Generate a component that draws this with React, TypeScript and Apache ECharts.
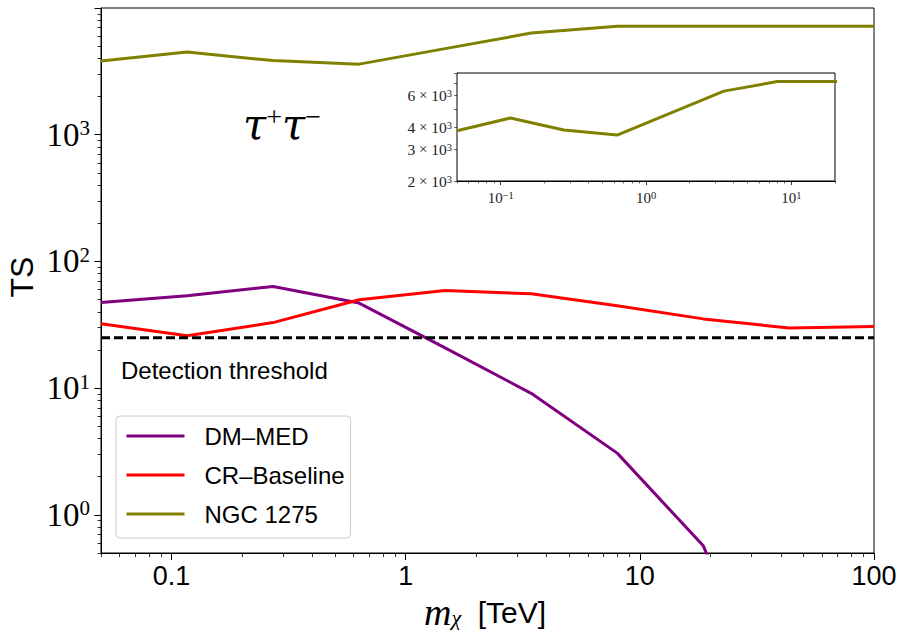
import React, { useEffect, useRef } from 'react';
import * as echarts from 'echarts';

// ---- data ----
const massTeV = [0.05, 0.1165, 0.2715, 0.6327, 1.474, 3.436, 8.007, 18.66, 43.48, 100];
const dmMed = [47.4, 53.5, 63.4, 46.9, 20.8, 9.1, 3.07, 0.57, 0.015];
const crBaseline = [32.2, 25.9, 32.9, 49.8, 58.9, 55.5, 44.7, 35.2, 29.8, 30.6];
const ngc1275 = [3810, 4490, 3846, 3605, 4780, 6340, 7165, 7165, 7165, 7165];
const detectionThreshold = 25;

const seriesNames = ['DM–MED', 'CR–Baseline', 'NGC 1275'];
const seriesColors = ['#800080', '#ff0000', '#808000'];

// main axes ticks
const xMajorTicks = [0.1, 1, 10, 100];
const xMajorLabels = ['0.1', '1', '10', '100'];
const xMinorTicks = [0.05, 0.06, 0.07, 0.08, 0.09, 0.2, 0.3, 0.4, 0.5, 0.6, 0.7, 0.8, 0.9, 2, 3, 4, 5, 6, 7, 8, 9, 20, 30, 40, 50, 60, 70, 80, 90];
const yMajorTicks = [1, 10, 100, 1000, 10000];
const yMajorLabels = [1, 10, 100, 1000];
const yMinorTicks = [0.5, 0.6, 0.7, 0.8, 0.9, 2, 3, 4, 5, 6, 7, 8, 9, 20, 30, 40, 50, 60, 70, 80, 90, 200, 300, 400, 500, 600, 700, 800, 900, 2000, 3000, 4000, 5000, 6000, 7000, 8000, 9000];

// inset axes ticks
const insetXMajor = [0.1, 1, 10];
const insetXMinor = [0.05, 0.06, 0.07, 0.08, 0.09, 0.2, 0.3, 0.4, 0.5, 0.6, 0.7, 0.8, 0.9, 2, 3, 4, 5, 6, 7, 8, 9, 20];
const insetYTicks = [2000, 3000, 4000, 5000, 6000, 7000, 8000];
const insetYLabels = [2000, 3000, 4000, 6000];

const SANS = '"Liberation Sans", Arial, sans-serif';
const SERIF = '"Liberation Serif", "DejaVu Serif", serif';
const GREEK = '"DejaVu Serif", "Liberation Serif", serif';

const pairs = (ys: number[]) => ys.map((y, i) => [massTeV[i], y]);
const expOf = (v: number) => Math.round(Math.log10(v));
const supMinus = (n: number) => (n < 0 ? '−' + Math.abs(n) : String(n));

export default function App() {
  const ref = useRef<HTMLDivElement>(null);
  useEffect(() => {
    const chart = echarts.init(ref.current!, null, { renderer: 'svg' });
    const black = '#000';
    const LW = 3;
    const option: any = {
      animation: false,
      backgroundColor: '#fff',
      grid: [
        { left: 101, top: 8, width: 773, height: 545, show: true, borderColor: black, borderWidth: 1, backgroundColor: 'transparent', containLabel: false, outerBoundsMode: 'none' },
        { left: 457, top: 73, width: 378, height: 108, show: true, borderColor: black, borderWidth: 1, backgroundColor: '#fff', containLabel: false, outerBoundsMode: 'none', z: 3 },
      ],
      xAxis: [
        {
          gridIndex: 0, type: 'log', logBase: 10, min: 0.05, max: 100, position: 'bottom', offset: 0,
          axisLine: { show: true, lineStyle: { color: black, width: 1 } },
          axisTick: { show: true, customValues: xMajorTicks, length: 7, lineStyle: { color: black, width: 1 } },
          axisLabel: {
            show: true, customValues: xMajorTicks, margin: 9, color: black, fontSize: 27, fontFamily: SANS,
            formatter: (v: number) => xMajorLabels[xMajorTicks.findIndex((t) => Math.abs(Math.log10(t) - Math.log10(v)) < 0.01)] ?? '',
          },
          splitLine: { show: false }, minorTick: { show: false },
        },
        {
          gridIndex: 0, type: 'log', logBase: 10, min: 0.05, max: 100, position: 'bottom', offset: 0,
          axisLine: { show: false },
          axisTick: { show: true, customValues: xMinorTicks, length: 4, lineStyle: { color: black, width: 0.8 } },
          axisLabel: { show: false }, splitLine: { show: false },
        },
        {
          gridIndex: 1, type: 'log', logBase: 10, min: 0.05, max: 20, position: 'bottom', offset: 0,
          axisLine: { show: true, lineStyle: { color: black, width: 1 } },
          axisTick: { show: true, customValues: insetXMajor, length: 4, lineStyle: { color: black, width: 0.8 } },
          axisLabel: {
            show: true, customValues: insetXMajor, margin: 9, color: '#222',
            formatter: (v: number) => `{b|10}{s|${supMinus(expOf(v))}}`,
            rich: {
              b: { fontSize: 15, lineHeight: 15, fontFamily: SERIF, color: '#222' },
              s: { fontSize: 10.5, lineHeight: 8, fontFamily: SERIF, color: '#222', verticalAlign: 'top' },
            },
          },
          splitLine: { show: false },
        },
        {
          gridIndex: 1, type: 'log', logBase: 10, min: 0.05, max: 20, position: 'bottom', offset: 0,
          axisLine: { show: false },
          axisTick: { show: true, customValues: insetXMinor, length: 2.5, lineStyle: { color: black, width: 0.6 } },
          axisLabel: { show: false }, splitLine: { show: false },
        },
      ],
      yAxis: [
        {
          gridIndex: 0, type: 'log', logBase: 10, min: 0.5, max: 10000, position: 'left', offset: 0,
          axisLine: { show: true, lineStyle: { color: black, width: 1 } },
          axisTick: { show: true, customValues: yMajorTicks, length: 6.5, lineStyle: { color: black, width: 1 } },
          axisLabel: {
            show: true, customValues: yMajorLabels, margin: 11, color: black,
            formatter: (v: number) => `{b|10}{s|${expOf(v)}}`,
            rich: {
              b: { fontSize: 33, lineHeight: 34, fontFamily: SERIF, color: black },
              s: { fontSize: 21, lineHeight: 14, fontFamily: SERIF, color: black, verticalAlign: 'top' },
            },
          },
          splitLine: { show: false }, minorTick: { show: false },
        },
        {
          gridIndex: 0, type: 'log', logBase: 10, min: 0.5, max: 10000, position: 'left', offset: 0,
          axisLine: { show: false },
          axisTick: { show: true, customValues: yMinorTicks, length: 3.5, lineStyle: { color: black, width: 0.8 } },
          axisLabel: { show: false }, splitLine: { show: false },
        },
        {
          gridIndex: 1, type: 'log', logBase: 10, min: 2000, max: 8000, position: 'left', offset: 0,
          axisLine: { show: true, lineStyle: { color: black, width: 1 } },
          axisTick: { show: true, customValues: insetYTicks, length: 3, lineStyle: { color: black, width: 0.6 } },
          axisLabel: {
            show: true, customValues: insetYLabels, margin: 5, color: '#222',
            formatter: (v: number) => `{n|${Math.round(v / 1000)}}{x| × }{b|10}{s|3}`,
            rich: {
              n: { fontSize: 15.5, lineHeight: 15, fontFamily: SERIF, color: '#222' },
              x: { fontSize: 15, lineHeight: 15, fontFamily: SERIF, color: '#222' },
              b: { fontSize: 15.5, lineHeight: 15, fontFamily: SERIF, color: '#222' },
              s: { fontSize: 10.5, lineHeight: 8, fontFamily: SERIF, color: '#222', verticalAlign: 'top' },
            },
          },
          splitLine: { show: false },
        },
      ],
      legend: {
        data: seriesNames,
        orient: 'vertical', left: 116, top: 416,
        padding: [8, 6, 12, 9], itemGap: 15, itemWidth: 58, itemHeight: 24,
        backgroundColor: 'rgba(255,255,255,0.8)', borderColor: '#cccccc', borderWidth: 1, borderRadius: 4,
        textStyle: { fontSize: 24, fontFamily: SANS, color: black, padding: [0, 0, 0, 15], lineHeight: 24 },
        itemStyle: { opacity: 0 },
        lineStyle: { width: LW },
        selectedMode: false,
      },
      series: [
        { name: seriesNames[0], type: 'line', xAxisIndex: 0, yAxisIndex: 0, data: pairs(dmMed), symbol: 'none', showSymbol: false, clip: true, color: seriesColors[0], lineStyle: { color: seriesColors[0], width: LW }, z: 2 },
        { name: seriesNames[1], type: 'line', xAxisIndex: 0, yAxisIndex: 0, data: pairs(crBaseline), symbol: 'none', showSymbol: false, clip: true, color: seriesColors[1], lineStyle: { color: seriesColors[1], width: LW }, z: 2 },
        { name: seriesNames[2], type: 'line', xAxisIndex: 0, yAxisIndex: 0, data: pairs(ngc1275), symbol: 'none', showSymbol: false, clip: true, color: seriesColors[2], lineStyle: { color: seriesColors[2], width: LW }, z: 2 },
        { name: 'Detection threshold', type: 'line', xAxisIndex: 0, yAxisIndex: 0, data: [[0.05, detectionThreshold], [100, detectionThreshold]], symbol: 'none', clip: true, lineStyle: { color: black, width: LW, type: [9, 4] }, z: 2 },
        { name: 'NGC 1275 (inset)', type: 'line', xAxisIndex: 2, yAxisIndex: 2, data: pairs(ngc1275), symbol: 'none', clip: true, lineStyle: { color: seriesColors[2], width: LW }, z: 4 },
      ],
      graphic: [
        {
          type: 'text', x: 243, y: 124, z: 10,
          style: {
            text: '{t|τ}{p|+}{t|τ}{p|−}', align: 'left', verticalAlign: 'middle',
            rich: {
              t: { fontSize: 42, lineHeight: 44, fontFamily: GREEK, fontStyle: 'italic', fill: black },
              p: { fontSize: 28, lineHeight: 26, fontFamily: SERIF, fill: black, verticalAlign: 'top' },
            },
          },
        },
        {
          type: 'text', x: 121, y: 370, z: 10,
          style: { text: 'Detection threshold', fontSize: 24, fontFamily: SANS, fill: black, align: 'left', verticalAlign: 'middle' },
        },
        {
          type: 'text', x: 22, y: 277, rotation: Math.PI / 2, z: 10,
          style: { text: 'TS', fontSize: 32, fontFamily: SANS, fill: black, align: 'center', verticalAlign: 'middle' },
        },
        {
          type: 'text', x: 485, y: 612, z: 10,
          style: {
            text: '{m|m}{c|χ}{u|  [TeV]}', align: 'center', verticalAlign: 'middle',
            rich: {
              m: { fontSize: 38, lineHeight: 32, fontFamily: SERIF, fontStyle: 'italic', fill: black },
              c: { fontSize: 22, lineHeight: 12, fontFamily: SERIF, fontStyle: 'italic', fill: black, verticalAlign: 'bottom' },
              u: { fontSize: 30, lineHeight: 32, fontFamily: SANS, fill: black },
            },
          },
        },
      ],
    };
    chart.setOption(option);
    return () => chart.dispose();
  }, []);
  return <div ref={ref} style={{ position: 'fixed', left: 0, top: 0, width: 898, height: 633, background: '#fff' }} />;
}
